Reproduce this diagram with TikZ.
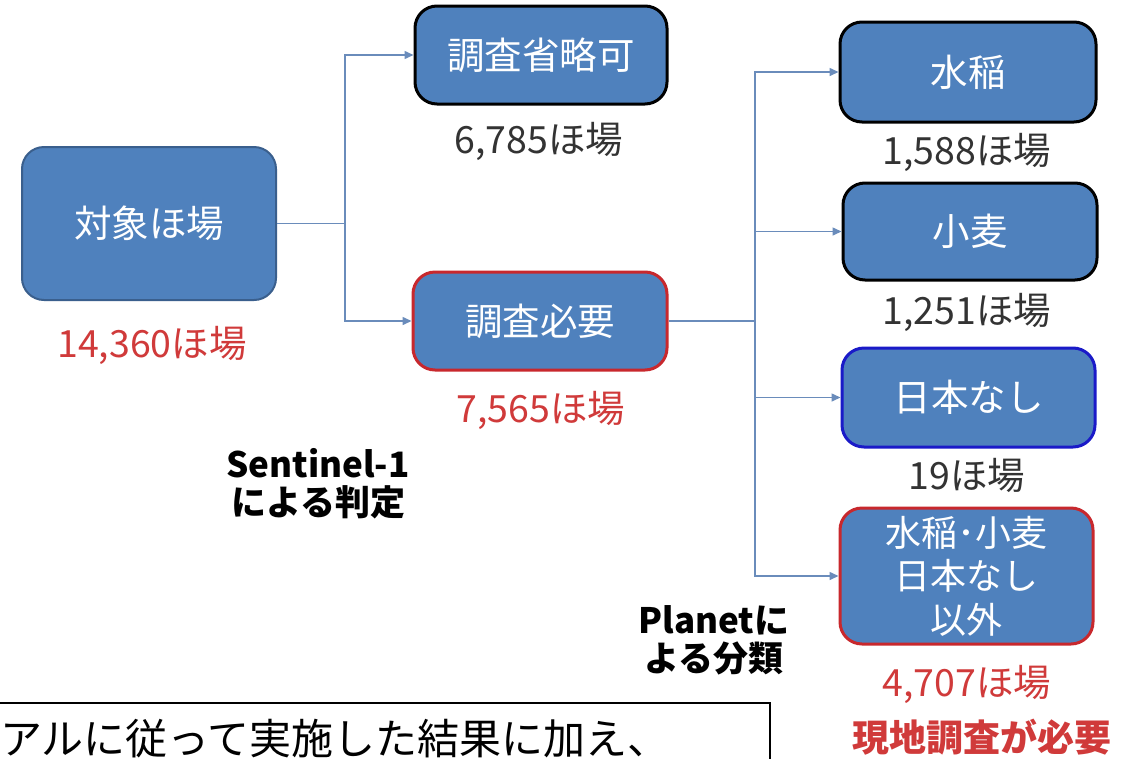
\documentclass[tikz,border=0pt]{standalone}
\usepackage{fontspec}
\setmainfont{Noto Sans CJK JP}
\usetikzlibrary{arrows.meta}
\definecolor{boxblue}{HTML}{4F81BD}
\definecolor{edgeblue}{HTML}{3A5F8D}
\definecolor{linkblue}{HTML}{6A8CBB}
\definecolor{redline}{HTML}{C8282D}
\definecolor{redtext}{HTML}{D03A3A}
\definecolor{bluline}{HTML}{1A1AC8}
\definecolor{graytext}{HTML}{333333}
\tikzset{
  boxnode/.style={rectangle, rounded corners=22pt, fill=boxblue, text=white, align=center,
    font=\fontsize{37.5}{44}\selectfont, inner sep=0pt},
  blackedge/.style={draw=black, line width=3pt},
  rededge/.style={draw=redline, line width=3pt},
  bluedge/.style={draw=bluline, line width=3pt},
  plainedge/.style={draw=edgeblue, line width=2pt},
  count/.style={font=\fontsize{37.5}{44}\selectfont, text=graytext, inner sep=0pt},
  redcount/.style={font=\fontsize{37.5}{44}\selectfont, text=redtext, inner sep=0pt},
  boldlabel/.style={font=\fontsize{35}{38}\selectfont\bfseries, align=center, inner sep=0pt},
  link/.style={draw=linkblue, line width=1.5pt},
  linkarrow/.style={link, -{Triangle[length=9pt,width=8pt]}},
}
\begin{document}
\begin{tikzpicture}[x=1pt,y=-1pt]
\useasboundingbox (0,0) rectangle (1138,758);
\clip (0,0) rectangle (1138,758);
\fill[white] (0,0) rectangle (1138,758);

\node[boxnode, plainedge, minimum width=254pt, minimum height=153pt] (A) at (149,223.5) {対象ほ場};
\node[redcount] (Acnt) at (152,345) {14,360ほ場};

\node[boxnode, blackedge, minimum width=252pt, minimum height=98pt] (B) at (541,55) {調査省略可};
\node[count] (Bcnt) at (539,141) {6,785ほ場};

\node[boxnode, rededge, minimum width=254pt, minimum height=98pt] (C) at (540,321) {調査必要};
\node[redcount] (Ccnt) at (541,410) {7,565ほ場};

\node[boxnode, blackedge, minimum width=256pt, minimum height=100pt] (D) at (968,72) {水稲};
\node[count] (Dcnt) at (967,152) {1,588ほ場};

\node[boxnode, blackedge, minimum width=254pt, minimum height=97pt] (E) at (970,231.5) {小麦};
\node[count] (Ecnt) at (967,312) {1,251ほ場};

\node[boxnode, bluedge, minimum width=253pt, minimum height=99pt] (F) at (968.5,397.5) {日本なし};
\node[count] (Fcnt) at (967,475) {19ほ場};

\node[boxnode, rededge, minimum width=253pt, minimum height=136pt, font=\fontsize{36}{43.5}\selectfont] (G) at (966.5,576) {水稲･小麦\\日本なし\\以外};
\node[redcount] (Gcnt) at (967,684) {4,707ほ場};
\node[font=\fontsize{37}{44}\selectfont\bfseries, text=redtext, inner sep=0pt] (need) at (982,737) {現地調査が必要};

\node[boldlabel] (sent) at (318,484) {Sentinel-1\\による判定};
\node[boldlabel] (plan) at (714,640) {Planetに\\よる分類};

\coordinate (j1) at (345,223.5);
\draw[link] (A.east) -- (j1);
\draw[linkarrow] (j1) |- (B.west);
\draw[linkarrow] (j1) |- (C.west);

\coordinate (j2) at (755,321);
\draw[link] (C.east) -- (j2);
\draw[linkarrow] (j2) |- (D.west);
\draw[linkarrow] (j2) |- (E.west);
\draw[linkarrow] (j2) |- (F.west);
\draw[linkarrow] (j2) |- (G.west);

\draw[line width=1.5pt] (-5,703) rectangle (770,780);
\node[anchor=west, font=\fontsize{42}{48}\selectfont, inner sep=0pt] (note) at (0,739) {アルに従って実施した結果に加え、};
\end{tikzpicture}
\end{document}
